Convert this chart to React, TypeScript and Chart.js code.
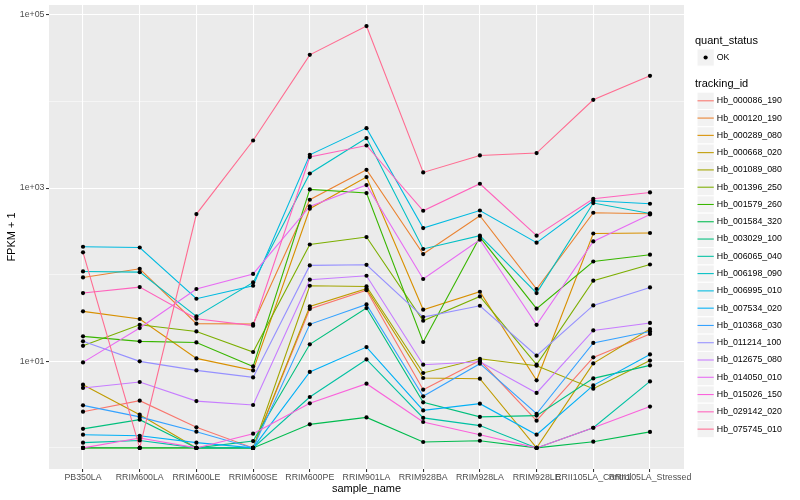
import React, { useEffect, useRef } from 'react';
import { Chart, registerables } from 'chart.js';

Chart.register(...registerables);

const FONT = '"Liberation Sans", Arial, Helvetica, sans-serif';

const sampleNames = [
  'PB350LA', 'RRIM600LA', 'RRIM600LE', 'RRIM600SE', 'RRIM600PE', 'RRIM901LA',
  'RRIM928BA', 'RRIM928LA', 'RRIM928LE', 'RRII105LA_Control', 'RRII105LA_Stressed',
];

const trackingIds = [
  'Hb_000086_190', 'Hb_000120_190', 'Hb_000289_080', 'Hb_000668_020', 'Hb_001089_080',
  'Hb_001396_250', 'Hb_001579_260', 'Hb_001584_320', 'Hb_003029_100', 'Hb_006065_040',
  'Hb_006198_090', 'Hb_006995_010', 'Hb_007534_020', 'Hb_010368_030', 'Hb_011214_100',
  'Hb_012675_080', 'Hb_014050_010', 'Hb_015026_150', 'Hb_029142_020', 'Hb_075745_010',
];

const seriesColors = [
  '#F8766D', '#EA8331', '#D89000', '#C09B00', '#A3A500',
  '#7CAE00', '#39B600', '#00BB4E', '#00BF7D', '#00C1A3',
  '#00BFC4', '#00BAE0', '#00B0F6', '#35A2FF', '#9590FF',
  '#C77CFF', '#E76BF3', '#FA62DB', '#FF62BC', '#FF6C91',
];

// FPKM + 1 per sample, in sampleNames order
const hb000086_190 = [2.62, 3.51, 1.73, 1, 40.2, 66.2, 4.7, 10.2, 2.06, 11.1, 20.7];
const hb000120_190 = [92.9, 117, 27.2, 26.9, 733, 1626, 173, 479, 68.3, 519, 505];
const hb000289_080 = [37.7, 30.8, 10.8, 7.85, 577, 1340, 39.4, 63.5, 6.03, 299, 303];
const hb000668_020 = [5.37, 2.42, 1, 1, 43.0, 68.9, 6.41, 6.3, 1, 9.46, 23.6];
const hb001089_080 = [1, 1, 1, 1, 74.5, 73.1, 7.33, 10.7, 8.89, 4.83, 10.2];
const hb001396_250 = [15.1, 26.4, 22.1, 12.8, 223, 272, 29.4, 56.1, 9.14, 85.2, 131];
const hb001579_260 = [19.4, 17.0, 16.5, 8.73, 964, 876, 16.7, 272, 40.5, 142, 170];
const hb001584_320 = [1, 1, 1, 1, 1.87, 2.25, 1.17, 1.21, 1, 1.18, 1.53];
const hb003029_100 = [1.66, 2.12, 1, 1.2, 15.7, 41.2, 3.36, 2.28, 2.36, 6.35, 8.97];
const hb006065_040 = [1.15, 1.22, 1, 1, 3.87, 10.5, 2.22, 1.81, 1, 1.71, 5.86];
const hb006198_090 = [109, 107, 33.0, 81.4, 1473, 3777, 198, 282, 61.4, 671, 509];
const hb006995_010 = [210, 206, 52.7, 74.5, 2420, 4920, 345, 551, 234, 713, 659];
const hb007534_020 = [1.42, 1.38, 1.15, 1, 7.53, 14.6, 2.71, 3.24, 1.42, 5.27, 12.0];
const hb010368_030 = [3.1, 2.28, 1.54, 1, 26.7, 45.4, 3.94, 9.38, 2.48, 16.3, 22.1];
const hb011214_100 = [17.0, 9.98, 7.85, 6.52, 128, 130, 32.4, 43.8, 11.6, 44.2, 71.3];
const hb012675_080 = [4.92, 5.77, 3.47, 3.13, 87.5, 97.2, 9.14, 9.89, 4.31, 22.7, 27.7];
const hb014050_010 = [9.71, 24.2, 68.3, 102, 613, 1084, 89.1, 253, 26.4, 242, 496];
const hb015026_150 = [1, 1.3, 1, 1.46, 3.27, 5.51, 1.99, 1.42, 1, 1.71, 3.0];
const hb029142_020 = [61.4, 71.9, 31.0, 25.8, 2280, 3100, 547, 1122, 282, 753, 890];
const hb075745_010 = [181, 1, 501, 3540, 34500, 74100, 1515, 2380, 2535, 10450, 19770];

const seriesValues = [
  hb000086_190, hb000120_190, hb000289_080, hb000668_020, hb001089_080,
  hb001396_250, hb001579_260, hb001584_320, hb003029_100, hb006065_040,
  hb006198_090, hb006995_010, hb007534_020, hb010368_030, hb011214_100,
  hb012675_080, hb014050_010, hb015026_150, hb029142_020, hb075745_010,
];

const yMajorTicks = [10, 1000, 100000];
const yMajorLabels = ['1e+01', '1e+03', '1e+05'];
const yMinorTicks = [1, 100, 10000];
const quantStatus = ['OK'];

const panelBg = {
  id: 'panelBg',
  beforeDraw(chart: any) {
    const { ctx, chartArea: a, width, height } = chart;
    ctx.save();
    ctx.fillStyle = '#FFFFFF';
    ctx.fillRect(0, 0, width, height);
    ctx.fillStyle = '#EBEBEB';
    ctx.fillRect(a.left, a.top, a.right - a.left, a.bottom - a.top);
    ctx.restore();
  },
};

const ggLegend = {
  id: 'ggLegend',
  afterDraw(chart: any) {
    const ctx = chart.ctx;
    const x0 = 695;
    const keyX = 697;
    const key = 17.28;
    ctx.save();
    ctx.textAlign = 'left';
    ctx.textBaseline = 'middle';
    ctx.fillStyle = '#000000';
    ctx.font = `11px ${FONT}`;
    ctx.fillText('quant_status', x0, 40.5);

    const drawKey = (cy: number) => {
      ctx.fillStyle = '#F2F2F2';
      ctx.fillRect(keyX, cy - key / 2, key, key);
      ctx.strokeStyle = '#FFFFFF';
      ctx.lineWidth = 1;
      ctx.strokeRect(keyX, cy - key / 2, key, key);
    };

    quantStatus.forEach((q, i) => {
      const cy = 57.5 + i * key;
      drawKey(cy);
      ctx.fillStyle = '#000000';
      ctx.beginPath();
      ctx.arc(keyX + key / 2, cy, 2.1, 0, Math.PI * 2);
      ctx.fill();
      ctx.font = `8.8px ${FONT}`;
      ctx.fillText(q, keyX + key + 2.5, cy);
    });

    ctx.fillStyle = '#000000';
    ctx.font = `11px ${FONT}`;
    ctx.fillText('tracking_id', x0, 84);

    const lineSets = chart.data.datasets.filter((d: any) => d.showLine !== false);
    lineSets.forEach((d: any, i: number) => {
      const cy = 100.8 + i * key;
      drawKey(cy);
      ctx.strokeStyle = d.borderColor;
      ctx.lineWidth = 1.07;
      ctx.beginPath();
      ctx.moveTo(keyX + 0.5, cy);
      ctx.lineTo(keyX + key - 0.5, cy);
      ctx.stroke();
      ctx.fillStyle = '#000000';
      ctx.font = `8.8px ${FONT}`;
      ctx.fillText(d.label, keyX + key + 2.5, cy);
    });
    ctx.restore();
  },
};

export default function App() {
  const ref = useRef<HTMLCanvasElement | null>(null);

  useEffect(() => {
    document.body.style.margin = '0';
    const n = trackingIds.length;
    const lineSets = trackingIds.map((id, i) => ({
      label: id,
      data: seriesValues[i].map((v, j) => ({ x: j, y: v })),
      borderColor: seriesColors[i],
      backgroundColor: seriesColors[i],
      borderWidth: 1.1,
      pointRadius: 0,
      pointHoverRadius: 0,
      tension: 0,
      fill: false,
      order: n - i + 1,
    }));
    const pointSet = {
      label: 'points',
      data: seriesValues.flatMap((vals) => vals.map((v, j) => ({ x: j, y: v }))),
      showLine: false,
      borderColor: '#000000',
      backgroundColor: '#000000',
      pointRadius: 2.1,
      pointHoverRadius: 2.1,
      pointBackgroundColor: '#000000',
      pointBorderColor: '#000000',
      pointBorderWidth: 0,
      order: 0,
    };

    const isMajor = (v: number) => yMajorTicks.indexOf(v) >= 0;

    const chart = new Chart(ref.current as HTMLCanvasElement, {
      type: 'line',
      data: { datasets: [...lineSets, pointSet] as any },
      plugins: [panelBg, ggLegend],
      options: {
        responsive: false,
        animation: false,
        layout: { padding: { left: 0, right: 116, top: 5, bottom: 0 } },
        plugins: {
          legend: { display: false },
          tooltip: { enabled: false },
        },
        events: [],
        scales: {
          x: {
            type: 'linear',
            min: -0.6,
            max: 10.6,
            bounds: 'data',
            afterBuildTicks: (s: any) => {
              s.ticks = sampleNames.map((_, i) => ({ value: i }));
            },
            afterFit: (s: any) => {
              s.height = 31;
              s.paddingLeft = 0;
              s.paddingRight = 0;
            },
            ticks: {
              autoSkip: false,
              maxRotation: 0,
              minRotation: 0,
              padding: 0,
              color: '#4D4D4D',
              font: { size: 8.8, family: FONT },
              callback: (v: any) => sampleNames[v as number] ?? '',
            },
            grid: {
              color: '#FFFFFF',
              lineWidth: 1.07,
              drawTicks: true,
              tickLength: 3,
              tickColor: '#333333',
              tickWidth: 1.07,
            },
            border: { display: false },
            title: {
              display: true,
              text: 'sample_name',
              color: '#000000',
              font: { size: 11, family: FONT },
              padding: { top: 0, bottom: 4.4 },
            },
          },
          y: {
            type: 'logarithmic',
            min: Math.pow(10, -0.2435),
            max: Math.pow(10, 5.1135),
            bounds: 'data',
            afterBuildTicks: (s: any) => {
              s.ticks = [...yMinorTicks, ...yMajorTicks]
                .sort((a, b) => a - b)
                .map((v) => ({ value: v }));
            },
            afterFit: (s: any) => {
              s.width = 49;
              s.paddingTop = 0;
              s.paddingBottom = 0;
            },
            ticks: {
              padding: 1.5,
              color: '#4D4D4D',
              font: { size: 8.8, family: FONT },
              callback: (v: any) => {
                const k = yMajorTicks.indexOf(v as number);
                return k >= 0 ? yMajorLabels[k] : '';
              },
            },
            grid: {
              color: '#FFFFFF',
              lineWidth: (c: any) => (isMajor(c.tick?.value) ? 1.07 : 0.53),
              drawTicks: true,
              tickLength: 3,
              tickColor: (c: any) => (isMajor(c.tick?.value) ? '#333333' : 'rgba(0,0,0,0)'),
              tickWidth: 1.07,
            },
            border: { display: false },
            title: {
              display: true,
              text: 'FPKM + 1',
              color: '#000000',
              font: { size: 11, family: FONT },
              padding: { top: 5.5, bottom: 0 },
            },
          },
        },
      } as any,
    });
    return () => chart.destroy();
  }, []);

  return (
    <div style={{ width: 800, height: 500, position: 'relative' }}>
      <canvas ref={ref} width={800} height={500} style={{ display: 'block', width: 800, height: 500 }} />
    </div>
  );
}
